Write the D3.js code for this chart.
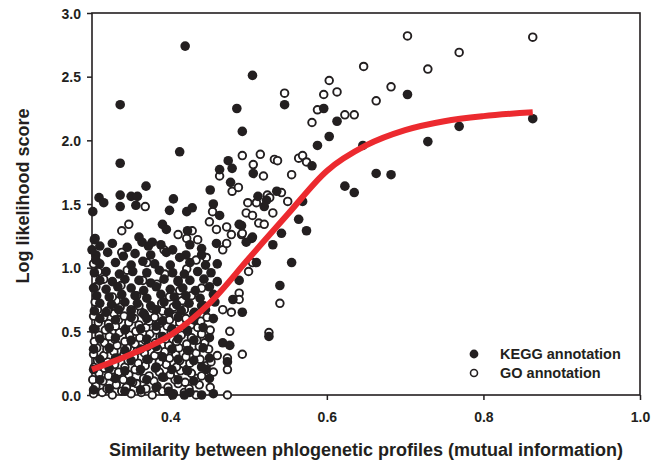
<!DOCTYPE html>
<html>
<head>
<meta charset="utf-8">
<script src="https://cdn.jsdelivr.net/npm/d3@7"></script>
<style>
  body { margin: 0; background: #fff; }
  text { font-family: "Liberation Sans", Arial, sans-serif; font-weight: bold; fill: #231f20; }
</style>
</head>
<body>
<script>
// Gene pairs: [mutual information, log likelihood score]
// KEGG annotated pairs, outliers and the upper band
var keggOuter = [
  [.419,2.74],[.336,2.28],[.412,1.91],[.505,2.51],[.485,2.25],[.336,1.82],[.546,2.28],[.492,2.07],
  [.596,2.25],[.613,2.15],[.603,2.03],[.588,1.96],[.646,1.96],[.663,1.74],[.682,1.73],[.623,1.64],
  [.635,1.59],[.703,2.36],[.769,2.11],[.729,1.99],[.863,2.17],[.506,1.74],[.581,1.8],[.474,1.84],
  [.479,1.78],[.463,1.77],[.477,1.67],[.451,1.61],[.455,1.5],[.536,1.6],[.512,1.56],[.523,1.53],
  [.569,1.52],[.52,1.48],[.564,1.38],[.574,1.29],[.542,1.27],[.531,1.18],[.555,1.04],[.54,.86],
  [.526,.46],[.504,1.23],[.497,1.2],[.491,1.33],[.51,1.04],[.488,.9],[.492,.65],[.48,.75],
  [.476,.39],[.473,.26],[.467,.41],[.446,.2],[.44,.22],[.403,0],[.418,0],[.44,0],
  [.369,1.64],[.309,1.55],[.315,1.51],[.301,1.44],[.336,1.57],[.35,1.56],[.358,1.56],[.336,1.48],
  [.356,1.49],[.404,1.54],[.399,1.45],[.421,1.44],[.428,1.47],[.39,1.34],[.395,1.3],[.422,1.29],
  [.463,1.41],[.488,1.34],[.303,1.22],[.3,1.14],[.305,1.06],[.36,1.24],[.364,1.2],[.377,1.2],
  [.388,1.18],[.403,1.14],[.412,1.08],[.459,1.19]
];

// KEGG annotated pairs inside the crowded low-similarity region
var keggCore = [
  [.31,1.17],[.326,1.19],[.345,1.16],[.372,1.17],[.425,1.18],[.44,1.15],
  [.305,1.1],[.32,1.12],[.34,1.09],[.355,1.11],[.375,1.1],[.395,1.12],[.42,1.1],[.44,1.1],
  [.31,1.03],[.33,1.04],[.35,1.02],[.365,1.05],[.38,1.03],[.4,1.02],[.425,1.04],[.445,1.02],[.46,1.03],
  [.303,.96],[.318,.97],[.335,.95],[.352,.97],[.37,.96],[.386,.98],[.403,.96],[.418,.95],[.435,.97],[.452,.96],
  [.31,.9],[.326,.89],[.342,.91],[.36,.9],[.375,.88],[.392,.91],[.41,.89],[.425,.9],[.443,.91],[.46,.89],
  [.302,.84],[.318,.83],[.333,.85],[.35,.84],[.366,.82],[.382,.85],[.4,.83],[.416,.84],[.432,.82],[.45,.85],
  [.306,.78],[.322,.77],[.338,.79],[.355,.78],[.37,.76],[.388,.79],[.405,.77],[.42,.78],[.438,.76],[.455,.79],
  [.31,.72],[.325,.71],[.342,.73],[.358,.72],[.375,.7],[.392,.73],[.408,.71],[.424,.72],[.44,.7],[.457,.73],
  [.303,.66],[.318,.65],[.334,.67],[.35,.66],[.366,.64],[.382,.67],[.398,.65],[.414,.66],[.43,.64],[.445,.67],
  [.31,.6],[.33,.59],[.35,.61],[.37,.6],[.39,.58],[.41,.61],[.43,.59],[.455,.6],
  [.302,.52],[.322,.53],[.342,.51],[.362,.52],[.382,.54],[.402,.52],[.422,.51],[.442,.53],
  [.31,.44],[.33,.45],[.35,.43],[.37,.44],[.39,.46],[.41,.44],[.43,.43],[.45,.45],
  [.302,.36],[.322,.37],[.342,.35],[.362,.36],[.382,.38],[.402,.36],[.422,.35],[.442,.37],
  [.31,.28],[.33,.29],[.35,.27],[.37,.28],[.39,.3],[.41,.28],[.43,.27],[.45,.29],
  [.302,.2],[.322,.21],[.342,.19],[.362,.2],[.382,.22],[.402,.2],[.422,.19],
  [.31,.12],[.33,.13],[.35,.11],[.37,.12],[.39,.14],[.41,.12],[.43,.11],[.45,.13],
  [.302,.04],[.322,.05],[.342,.03],[.362,.04],[.382,.06],[.398,.03],[.425,.02],[.455,.01]
];

// GO annotated pairs, outliers and the upper band
var goOuter = [
  [.546,2.37],[.603,2.47],[.596,2.36],[.613,2.38],[.588,2.24],[.581,2.14],[.623,2.2],[.635,2.2],
  [.647,2.58],[.682,2.42],[.663,2.31],[.703,2.82],[.863,2.81],[.769,2.69],[.729,2.56],
  [.492,1.88],[.515,1.89],[.506,1.81],[.519,1.72],[.533,1.85],[.537,1.84],[.564,1.86],[.569,1.88],
  [.574,1.83],[.555,1.73],[.463,1.72],[.479,1.6],[.487,1.63],[.542,1.59],[.524,1.57],[.527,1.55],
  [.499,1.51],[.51,1.51],[.55,1.52],[.531,1.43],[.497,1.43],[.505,1.41],[.513,1.35],[.52,1.34],
  [.491,1.26],[.5,.97],[.505,1.04],[.54,.72],[.526,.49],[.492,.32],[.488,.8],[.488,.75],
  [.368,1.48],[.347,1.34],[.338,1.29],[.428,1.29],[.421,1.23],[.41,1.26],[.435,1.22],[.454,1.44],
  [.45,1.36],[.459,1.3],[.472,1.32],[.478,1.26],[.492,1.27],[.505,1.24],[.304,1.23],[.392,1.14],
  [.433,1.06],[.446,1.08],[.467,1.14],[.472,1.19],
  [.473,0],[.473,.2],[.476,.5],[.467,.67],[.478,.65],[.473,.29]
];

// GO annotated pairs inside the crowded low-similarity region
var goCore = [
  [.302,.01],[.313,.02],[.326,0],[.338,.03],[.35,.01],[.363,.02],[.377,0],[.39,.03],[.404,.01],[.418,.02],[.433,0],
  [.305,.07],[.319,.05],[.331,.08],[.344,.06],[.357,.09],[.369,.05],[.383,.07],[.397,.06],[.41,.09],[.424,.05],[.437,.08],[.451,.06],
  [.301,.12],[.314,.11],[.327,.14],[.34,.12],[.352,.1],[.366,.13],[.379,.11],[.392,.14],[.406,.12],[.419,.1],[.433,.13],
  [.309,.17],[.321,.15],[.334,.18],[.347,.16],[.36,.19],[.373,.15],[.386,.18],[.4,.16],[.413,.19],[.427,.17],[.44,.15],[.455,.18],
  [.303,.22],[.316,.21],[.329,.24],[.342,.22],[.355,.2],[.368,.23],[.381,.21],[.395,.24],[.408,.22],[.421,.2],[.446,.23],
  [.307,.27],[.32,.26],[.333,.29],[.346,.27],[.359,.25],[.372,.28],[.386,.26],[.399,.29],[.412,.27],[.425,.25],[.438,.28],[.452,.26],
  [.302,.32],[.315,.31],[.328,.34],[.341,.32],[.354,.3],[.367,.33],[.38,.31],[.393,.34],[.407,.32],[.42,.3],[.433,.33],[.46,.31],
  [.306,.37],[.319,.36],[.332,.39],[.345,.37],[.358,.35],[.371,.38],[.384,.36],[.398,.39],[.411,.37],[.424,.35],[.437,.38],[.449,.36],
  [.303,.42],[.316,.41],[.329,.44],[.342,.42],[.355,.4],[.368,.43],[.381,.41],[.394,.44],[.408,.42],[.421,.4],[.434,.43],[.444,.41],
  [.309,.47],[.322,.46],[.335,.49],[.348,.47],[.361,.45],[.374,.48],[.387,.46],[.401,.49],[.414,.47],[.427,.45],[.44,.48],
  [.304,.52],[.317,.51],[.33,.54],[.343,.52],[.356,.5],[.369,.53],[.382,.51],[.396,.54],[.409,.52],[.422,.5],[.435,.53],[.451,.51],
  [.308,.57],[.321,.56],[.334,.59],[.347,.57],[.36,.55],[.373,.58],[.386,.56],[.399,.59],[.412,.57],[.426,.55],[.439,.58],
  [.302,.62],[.315,.61],[.328,.64],[.341,.62],[.354,.6],[.367,.63],[.38,.61],[.393,.64],[.407,.62],[.42,.6],[.433,.63],[.447,.61],
  [.307,.67],[.32,.66],[.336,.69],[.35,.67],[.363,.65],[.377,.68],[.39,.66],[.404,.69],[.418,.67],[.431,.65],
  [.304,.73],[.331,.74],[.36,.7],[.389,.72],[.415,.74],[.443,.7],
  [.326,.77],[.357,.78],[.399,.77],[.427,.78],
  [.305,.85],[.337,.86],[.383,.87],[.412,.82],[.44,.84],
  [.315,.91],[.365,.9],[.41,.9],
  [.308,.97],[.345,.98],[.393,.95],[.421,.99],
  [.302,1.03],[.37,1.04],[.338,1.12]
];

// fitted trend through both series
var fitX = [.30,.35,.40,.45,.50,.55,.60,.65,.70,.75,.80,.863];
var fitY = [.20,.32,.47,.72,1.07,1.42,1.76,1.96,2.08,2.15,2.19,2.22];

var xTicks = [0.4, 0.6, 0.8, 1.0];
var yTicks = [0, 0.5, 1.0, 1.5, 2.0, 2.5, 3.0];

var legendItems = ["KEGG annotation", "GO annotation"];

var width = 652, height = 468;
var plotLeft = 92, plotRight = 640, plotTop = 13, plotBottom = 395;

var svg = d3.select("body").append("svg")
    .attr("width", width)
    .attr("height", height);

var x = d3.scaleLinear().domain([0.3, 1.0]).range([plotLeft, plotRight]);
var y = d3.scaleLinear().domain([0, 3.0]).range([plotBottom, plotTop]);

// plot frame
svg.append("rect")
    .attr("x", plotLeft).attr("y", plotTop)
    .attr("width", plotRight - plotLeft).attr("height", plotBottom - plotTop)
    .attr("fill", "none")
    .attr("stroke", "#231f20")
    .attr("stroke-width", 1.6);

var yAxis = svg.append("g")
    .attr("transform", "translate(" + plotLeft + ",0)")
    .call(d3.axisLeft(y).tickValues(yTicks).tickFormat(d3.format(".1f")).tickSize(5).tickPadding(6));

var xAxis = svg.append("g")
    .attr("transform", "translate(0," + plotBottom + ")")
    .call(d3.axisBottom(x).tickValues(xTicks).tickFormat(d3.format(".1f")).tickSize(5).tickPadding(12));

[yAxis, xAxis].forEach(function (g) {
    g.select(".domain").remove();
    g.selectAll("line").attr("stroke", "#231f20").attr("stroke-width", 1.5);
    g.selectAll("text")
        .attr("font-family", "Liberation Sans, Arial, sans-serif")
        .attr("font-weight", "bold")
        .attr("font-size", 14)
        .attr("fill", "#231f20");
});
yAxis.selectAll("text").attr("dy", "0.36em");

// scatter: GO rings first, KEGG dots over them
var dots = svg.append("g");

dots.selectAll(".go")
    .data(goCore.concat(goOuter))
    .enter().append("circle")
    .attr("class", "go")
    .attr("cx", function (d) { return x(d[0]); })
    .attr("cy", function (d) { return y(d[1]); })
    .attr("r", 3.8)
    .attr("fill", "#fff")
    .attr("stroke", "#231f20")
    .attr("stroke-width", 1.9);

dots.selectAll(".kegg")
    .data(keggCore.concat(keggOuter))
    .enter().append("circle")
    .attr("class", "kegg")
    .attr("cx", function (d) { return x(d[0]); })
    .attr("cy", function (d) { return y(d[1]); })
    .attr("r", 4.8)
    .attr("fill", "#231f20");

// trend line
var fitLine = d3.line()
    .x(function (d) { return x(d[0]); })
    .y(function (d) { return y(d[1]); })
    .curve(d3.curveMonotoneX);

svg.append("path")
    .datum(fitX.map(function (v, i) { return [v, fitY[i]]; }))
    .attr("d", fitLine)
    .attr("fill", "none")
    .attr("stroke", "#ec2a2f")
    .attr("stroke-width", 6);

// legend
var legend = svg.append("g").attr("transform", "translate(474,354)");
legendItems.forEach(function (name, i) {
    var row = legend.append("g").attr("transform", "translate(0," + (i * 19) + ")");
    row.append("circle")
        .attr("r", i === 0 ? 4.4 : 3.5)
        .attr("fill", i === 0 ? "#231f20" : "#fff")
        .attr("stroke", "#231f20")
        .attr("stroke-width", i === 0 ? 0 : 1.6);
    row.append("text")
        .attr("x", 26)
        .attr("dy", "0.36em")
        .attr("font-size", 14.5)
        .text(name);
});

// axis titles
svg.append("text")
    .attr("x", (plotLeft + plotRight) / 2)
    .attr("y", 456)
    .attr("text-anchor", "middle")
    .attr("font-size", 18)
    .text("Similarity between phlogenetic profiles (mutual information)");

svg.append("text")
    .attr("transform", "translate(29,196) rotate(-90)")
    .attr("text-anchor", "middle")
    .attr("font-size", 18)
    .text("Log likelihood score");
</script>
</body>
</html>
